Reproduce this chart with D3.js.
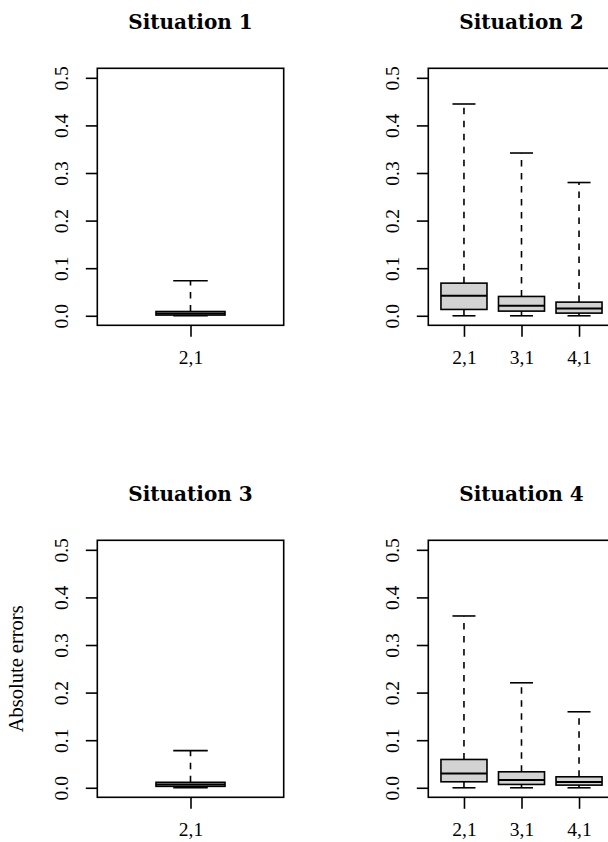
<!DOCTYPE html>
<html>
<head>
<meta charset="utf-8">
<script src="https://cdn.jsdelivr.net/npm/d3@7"></script>
<style>
  html, body { margin: 0; padding: 0; background: #fff; }
  svg { display: block; }
  text { fill: #000; }
</style>
</head>
<body>
<svg id="chart" width="608" height="842"></svg>
<script>
// ---- data ----
const titles = ["Situation 1", "Situation 2", "Situation 3", "Situation 4"];
const categories = [["2,1"], ["2,1", "3,1", "4,1"], ["2,1"], ["2,1", "3,1", "4,1"]];
const mins    = [[0], [0, 0, 0], [0], [0, 0, 0]];
const q1s     = [[0.0015], [0.0133, 0.0098, 0.0056], [0.003], [0.0126, 0.0070, 0.0056]];
const medians = [[0.005], [0.042, 0.021, 0.0154], [0.007], [0.030, 0.0161, 0.0119]];
const q3s     = [[0.009], [0.0686, 0.0406, 0.0287], [0.0115], [0.0595, 0.0336, 0.0231]];
const maxs    = [[0.0735], [0.445, 0.342, 0.280], [0.078], [0.361, 0.2206, 0.1597]];
const yTicks  = [0.0, 0.1, 0.2, 0.3, 0.4, 0.5];
const yLabel  = "Absolute errors";

// ---- layout ----
const svg = d3.select("#chart");
const plotW = 186.4, plotH = 257;
const lefts = [97.3, 428.3, 97.3, 428.3];
const tops  = [68.3, 68.3, 540.3, 540.3];
const lw = 1.6;
const serif = "'Liberation Serif', 'Times New Roman', serif";

titles.forEach((title, p) => {
  const cats = categories[p];
  const n = cats.length;
  const ext = 0.04 * n;
  const x = d3.scaleLinear().domain([0.5 - ext, n + 0.5 + ext]).range([0, plotW]);
  const y = d3.scaleLinear().domain([-0.02, 0.52]).range([plotH, 0]);
  const bw = (n === 1 ? 0.4 : 0.8);
  const unit = x(1) - x(0);
  const half = bw * unit / 2;

  const g = svg.append("g").attr("transform", `translate(${lefts[p]},${tops[p]})`);

  // title
  g.append("text")
    .attr("x", plotW / 2).attr("y", -39)
    .attr("text-anchor", "middle")
    .style("font-family", "'DejaVu Serif', serif")
    .style("font-size", "20px").style("font-weight", "bold")
    .text(title);

  // y axis
  const ya = g.append("g").call(
    d3.axisLeft(y).tickValues(yTicks).tickSize(11.5).tickFormat(d3.format(".1f"))
  );
  ya.select(".domain").remove();
  ya.selectAll(".tick line").attr("stroke", "#000").attr("stroke-width", lw);
  ya.selectAll(".tick text")
    .attr("x", null).attr("dy", null)
    .attr("transform", "translate(-29,0) rotate(-90)")
    .attr("text-anchor", "middle")
    .style("font-family", serif)
    .style("font-size", "19.5px").attr("fill", "#000");

  // x axis
  const xa = g.append("g").attr("transform", `translate(0,${plotH})`).call(
    d3.axisBottom(x).tickValues(d3.range(1, n + 1)).tickSize(11.5).tickFormat(i => cats[i - 1])
  );
  xa.select(".domain").remove();
  xa.selectAll(".tick line").attr("stroke", "#000").attr("stroke-width", lw);
  xa.selectAll(".tick text")
    .attr("y", 39).attr("dy", null)
    .style("font-family", serif)
    .style("font-size", "19.5px").attr("fill", "#000");

  // boxes
  const idx = d3.range(n);
  const bg = g.append("g");
  idx.forEach(i => {
    const cx = x(i + 1);
    // whiskers (dashed)
    bg.append("line").attr("x1", cx).attr("x2", cx)
      .attr("y1", y(q3s[p][i])).attr("y2", y(maxs[p][i]))
      .attr("stroke", "#000").attr("stroke-width", lw).attr("stroke-dasharray", "6.5,6.5");
    bg.append("line").attr("x1", cx).attr("x2", cx)
      .attr("y1", y(q1s[p][i])).attr("y2", y(mins[p][i]))
      .attr("stroke", "#000").attr("stroke-width", lw).attr("stroke-dasharray", "6.5,6.5");
    // caps
    [maxs[p][i], mins[p][i]].forEach(v => {
      bg.append("line").attr("x1", cx - half / 2).attr("x2", cx + half / 2)
        .attr("y1", y(v)).attr("y2", y(v))
        .attr("stroke", "#000").attr("stroke-width", lw);
    });
    // box
    bg.append("rect")
      .attr("x", cx - half).attr("width", 2 * half)
      .attr("y", y(q3s[p][i])).attr("height", y(q1s[p][i]) - y(q3s[p][i]))
      .attr("fill", "#d3d3d3").attr("stroke", "#000").attr("stroke-width", lw);
    // median
    bg.append("line").attr("x1", cx - half).attr("x2", cx + half)
      .attr("y1", y(medians[p][i])).attr("y2", y(medians[p][i]))
      .attr("stroke", "#000").attr("stroke-width", 2);
  });

  // frame
  g.append("rect").attr("x", 0).attr("y", 0).attr("width", plotW).attr("height", plotH)
    .attr("fill", "none").attr("stroke", "#000").attr("stroke-width", lw);

  // y label only on the bottom-left panel
  if (p === 2) {
    g.append("text")
      .attr("transform", `translate(${23 - lefts[p]},${plotH / 2}) rotate(-90)`)
      .attr("text-anchor", "middle")
      .style("font-family", serif)
      .style("font-size", "20.5px")
      .text(yLabel);
  }
});
</script>
</body>
</html>
